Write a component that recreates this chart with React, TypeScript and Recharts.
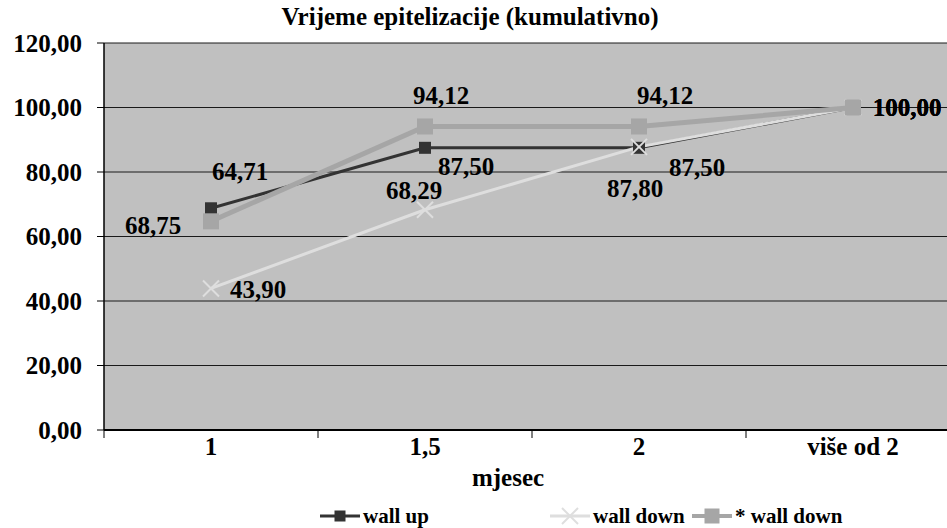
import React from "react";
import { LineChart, Line, XAxis, YAxis, CartesianGrid, Legend, LabelList, Label } from "recharts";

const months = ["1", "1,5", "2", "više od 2"];
const wallUp = [68.75, 87.5, 87.5, 100];
const wallDown = [43.9, 68.29, 87.8, 100];
const wallDownStar = [64.71, 94.12, 94.12, 100];
const yTicks = [0, 20, 40, 60, 80, 100, 120];

// where each data label sits relative to its point (dx, dy)
const wallUpLabelPos = [[-58, 17], [41, 19], [58, 20], [54, 0]];
const wallDownLabelPos = [[47, 1], [-11, -19], [-4, 42], [54, 0]];
const starLabelPos = [[29, -50], [16, -31], [26, -31], [54, 0]];

const FONT = "Liberation Serif, Times New Roman, serif";
const DARK = "#333333";
const LIGHT = "#dedede";
const MID = "#a6a6a6";

const data = months.map((m, i) => ({
  month: m,
  wallUp: wallUp[i],
  wallDown: wallDown[i],
  wallDownStar: wallDownStar[i],
}));

const fmt = (v: number) => v.toFixed(2).replace(".", ",");

function makeLabel(pos: number[][]) {
  return (props: any) => {
    const { x, y, value, index } = props;
    const [dx, dy] = pos[index] || [0, 0];
    return (
      <text
        x={x + dx}
        y={y + dy}
        textAnchor="middle"
        dominantBaseline="central"
        fontFamily={FONT}
        fontWeight="bold"
        fontSize={25}
        fill="#000"
      >
        {fmt(value)}
      </text>
    );
  };
}

const SquareDot = (size: number, color: string) => (props: any) => {
  const { cx, cy, index } = props;
  return <rect key={index} x={cx - size / 2} y={cy - size / 2} width={size} height={size} fill={color} />;
};

const CrossDot = (props: any) => {
  const { cx, cy, index } = props;
  const s = 8;
  return (
    <g key={index} stroke={LIGHT} strokeWidth={2}>
      <line x1={cx - s} y1={cy - s} x2={cx + s} y2={cy + s} />
      <line x1={cx - s} y1={cy + s} x2={cx + s} y2={cy - s} />
    </g>
  );
};

// category label plus a tick mark on the left boundary of the band
const CategoryTick = (props: any) => {
  const { x, y, payload } = props;
  return (
    <g>
      <line x1={x - 107} y1={y - 16} x2={x - 107} y2={y - 8} stroke="#000" strokeWidth={1} />
      <text x={x} y={y} textAnchor="middle" dominantBaseline="central" fontFamily={FONT} fontWeight="bold" fontSize={25} fill="#000">
        {payload.value}
      </text>
    </g>
  );
};

const LegendContent = () => {
  const items = [
    { x: 320, name: "wall up", color: DARK, marker: "square", w: 3, size: 11 },
    { x: 550, name: "wall down", color: LIGHT, marker: "cross", w: 3, size: 0 },
    { x: 692, name: "* wall down", color: MID, marker: "square", w: 4, size: 15 },
  ];
  return (
    <svg width={947} height={28}>
      {items.map((it) => (
        <g key={it.name}>
          <line x1={it.x} y1={16} x2={it.x + 40} y2={16} stroke={it.color} strokeWidth={it.w} />
          {it.marker === "square" ? (
            <rect x={it.x + 20 - it.size / 2} y={16 - it.size / 2} width={it.size} height={it.size} fill={it.color} />
          ) : (
            <g stroke={it.color} strokeWidth={2}>
              <line x1={it.x + 12} y1={8} x2={it.x + 28} y2={24} />
              <line x1={it.x + 12} y1={24} x2={it.x + 28} y2={8} />
            </g>
          )}
          <text x={it.x + 43} y={16} dominantBaseline="central" fontFamily={FONT} fontWeight="bold" fontSize={21} fill="#000">
            {it.name}
          </text>
        </g>
      ))}
    </svg>
  );
};

export default function App() {
  return (
    <div style={{ position: "absolute", left: 0, top: 0, width: 947, height: 528, overflow: "hidden", background: "#fff" }}>
      <div
        style={{
          position: "absolute",
          left: 470 - 300,
          top: 3,
          width: 600,
          textAlign: "center",
          fontFamily: FONT,
          fontWeight: "bold",
          fontSize: 25,
          lineHeight: "28px",
          zIndex: 2,
        }}
      >
        Vrijeme epitelizacije (kumulativno)
      </div>
      <LineChart width={960} height={528} data={data} margin={{ top: 43, right: 0, bottom: 0, left: 0 }}>
        <CartesianGrid vertical={false} stroke="#1a1a1a" strokeWidth={1} fill="#c0c0c0" fillOpacity={1} />
        <XAxis
          dataKey="month"
          height={70}
          padding={{ left: 107, right: 107 }}
          tickLine={false}
          tickSize={8}
          tickMargin={8}
          axisLine={{ stroke: "#000", strokeWidth: 2 }}
          tick={<CategoryTick />}
          interval={0}
        >
          <Label
            value="mjesec"
            position="insideTop"
            offset={38}
            dx={-24}
            style={{ fontFamily: FONT, fontWeight: "bold", fontSize: 25, fill: "#000" }}
          />
        </XAxis>
        <YAxis
          width={104}
          domain={[0, 120]}
          ticks={yTicks}
          tickFormatter={fmt}
          tickSize={7}
          tickMargin={15}
          axisLine={{ stroke: "#000", strokeWidth: 1.5 }}
          tickLine={{ stroke: "#000" }}
          tick={{ fill: "#000", fontFamily: FONT, fontWeight: "bold", fontSize: 25 }}
          interval={0}
        />
        <Legend height={28} verticalAlign="bottom" content={<LegendContent />} />
        <Line
          type="linear"
          dataKey="wallUp"
          name="wall up"
          stroke={DARK}
          strokeWidth={3}
          dot={SquareDot(12, DARK)}
          activeDot={false}
          isAnimationActive={false}
        >
          <LabelList dataKey="wallUp" content={makeLabel(wallUpLabelPos)} />
        </Line>
        <Line
          type="linear"
          dataKey="wallDown"
          name="wall down"
          stroke={LIGHT}
          strokeWidth={3}
          dot={CrossDot}
          activeDot={false}
          isAnimationActive={false}
        >
          <LabelList dataKey="wallDown" content={makeLabel(wallDownLabelPos)} />
        </Line>
        <Line
          type="linear"
          dataKey="wallDownStar"
          name="* wall down"
          stroke={MID}
          strokeWidth={5}
          dot={SquareDot(16, MID)}
          activeDot={false}
          isAnimationActive={false}
        >
          <LabelList dataKey="wallDownStar" content={makeLabel(starLabelPos)} />
        </Line>
      </LineChart>
    </div>
  );
}
